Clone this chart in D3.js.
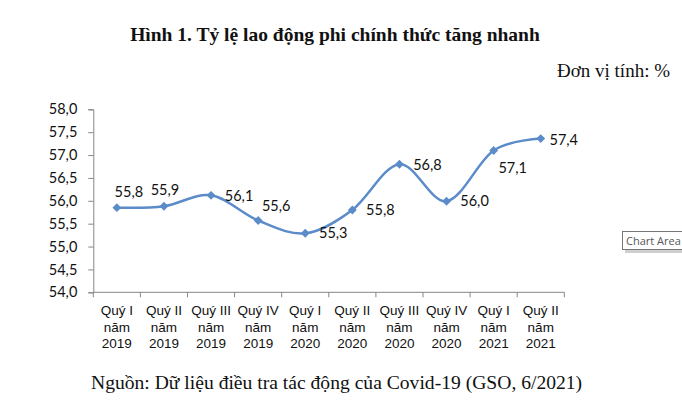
<!DOCTYPE html>
<html>
<head>
<meta charset="utf-8">
<script src="https://cdn.jsdelivr.net/npm/d3@7"></script>
<style>
  body { margin: 0; background: #fff; }
  svg { display: block; }
</style>
</head>
<body>
<div id="chart"></div>
<script>
// data
var quarters = [
  ["Quý I", "năm", "2019"], ["Quý II", "năm", "2019"], ["Quý III", "năm", "2019"], ["Quý IV", "năm", "2019"],
  ["Quý I", "năm", "2020"], ["Quý II", "năm", "2020"], ["Quý III", "năm", "2020"], ["Quý IV", "năm", "2020"],
  ["Quý I", "năm", "2021"], ["Quý II", "năm", "2021"]
];
var rates = [55.85, 55.88, 56.12, 55.57, 55.29, 55.80, 56.80, 55.99, 57.10, 57.36];
var rateLabels = ["55,8", "55,9", "56,1", "55,6", "55,3", "55,8", "56,8", "56,0", "57,1", "57,4"];
var yTicks = [54, 54.5, 55, 55.5, 56, 56.5, 57, 57.5, 58];

// label placement relative to each point (dx, dy of text middle)
var labelPos = [[12, -16], [1, -16], [28, 1], [18, -15], [28, 0], [28, 0], [28, 1], [28, 0], [19, 17], [23, 1]];

var w = 682, h = 400;
var plotLeft = 93.3, plotRight = 564.3, plotTop = 109.3, plotBottom = 292.3;
var blue = "#5b8cc9";

var svg = d3.select("#chart").append("svg")
  .attr("width", w)
  .attr("height", h);

var xScale = d3.scaleBand()
  .domain(d3.range(quarters.length))
  .range([plotLeft, plotRight]);

var yScale = d3.scaleLinear()
  .domain([54, 58])
  .range([plotBottom, plotTop]);

//title + unit
svg.append("text")
  .attr("x", 335)
  .attr("y", 41)
  .attr("text-anchor", "middle")
  .style("font-family", "'Liberation Serif', serif")
  .style("font-weight", "bold")
  .style("font-size", "19.5px")
  .style("fill", "#111")
  .text("Hình 1. Tỷ lệ lao động phi chính thức tăng nhanh");

svg.append("text")
  .attr("x", 670)
  .attr("y", 77)
  .attr("text-anchor", "end")
  .style("font-family", "'Liberation Serif', serif")
  .style("font-size", "19px")
  .style("fill", "#111")
  .text("Đơn vị tính: %");

//y axis
var yAxis = d3.axisLeft(yScale)
  .tickValues(yTicks)
  .tickSize(5)
  .tickPadding(11)
  .tickFormat(function(d) { return d3.format(".1f")(d).replace(".", ","); });

var gy = svg.append("g")
  .attr("transform", "translate(" + plotLeft + ",0)")
  .call(yAxis);
gy.select(".domain").attr("stroke", "#868686");
gy.selectAll(".tick line").attr("stroke", "#868686");
gy.selectAll(".tick text")
  .style("font-family", "Lato, sans-serif")
  .style("font-size", "14.5px")
  .style("fill", "#111");

//x axis with boundary ticks
var xLine = svg.append("g").attr("class", "xaxis");
xLine.append("line")
  .attr("x1", plotLeft).attr("x2", plotRight)
  .attr("y1", plotBottom).attr("y2", plotBottom)
  .attr("stroke", "#868686");
xLine.selectAll(".xtick")
  .data(d3.range(quarters.length + 1))
  .join("line")
  .attr("class", "xtick")
  .attr("x1", function(i) { return plotLeft + i * xScale.step(); })
  .attr("x2", function(i) { return plotLeft + i * xScale.step(); })
  .attr("y1", plotBottom).attr("y2", plotBottom + 5)
  .attr("stroke", "#868686");

var xLabels = svg.append("g").selectAll("text")
  .data(quarters)
  .join("text")
  .attr("x", function(d, i) { return xScale(i) + xScale.bandwidth() / 2; })
  .attr("y", 315)
  .attr("text-anchor", "middle")
  .style("font-family", "'Liberation Sans', Arial, sans-serif")
  .style("font-size", "13.5px")
  .style("fill", "#111");
xLabels.selectAll("tspan")
  .data(function(d) { return d; })
  .join("tspan")
  .attr("x", function() { return this.parentNode.getAttribute("x"); })
  .attr("dy", function(d, i) { return i == 0 ? 0 : 16.7; })
  .text(function(d) { return d; });

//line
var cx = function(d, i) { return xScale(i) + xScale.bandwidth() / 2; };
svg.append("path")
  .datum(rates)
  .attr("fill", "none")
  .attr("stroke", blue)
  .attr("stroke-width", 2.5)
  .attr("d", d3.line()
    .x(cx)
    .y(function(d) { return yScale(d); })
    .curve(d3.curveCardinal));

svg.selectAll(".marker")
  .data(rates)
  .join("path")
  .attr("class", "marker")
  .attr("transform", function(d, i) { return "translate(" + cx(d, i) + "," + yScale(d) + ")"; })
  .attr("d", d3.symbol().type(d3.symbolDiamond2).size(50))
  .attr("fill", blue);

svg.selectAll(".dlabel")
  .data(rates)
  .join("text")
  .attr("class", "dlabel")
  .attr("x", function(d, i) { return cx(d, i) + labelPos[i][0]; })
  .attr("y", function(d, i) { return yScale(d) + labelPos[i][1]; })
  .attr("dy", "0.35em")
  .attr("text-anchor", "middle")
  .style("font-family", "Lato, sans-serif")
  .style("font-size", "14.5px")
  .style("fill", "#111")
  .text(function(d, i) { return rateLabels[i]; });

//source
svg.append("text")
  .attr("x", 91)
  .attr("y", 389)
  .style("font-family", "'Liberation Serif', serif")
  .style("font-size", "19.6px")
  .style("fill", "#111")
  .text("Nguồn: Dữ liệu điều tra tác động của Covid-19 (GSO, 6/2021)");

//excel tooltip left in the screenshot
var tip = svg.append("g");
tip.append("rect")
  .attr("x", 625).attr("y", 235)
  .attr("width", 70).attr("height", 18)
  .attr("fill", "#cfcfcf");
tip.append("rect")
  .attr("x", 622.5).attr("y", 231.5)
  .attr("width", 70).attr("height", 18)
  .attr("fill", "#fff")
  .attr("stroke", "#767676");
tip.append("text")
  .attr("x", 626).attr("y", 245)
  .style("font-family", "'Open Sans', sans-serif")
  .style("font-size", "11px")
  .style("fill", "#575757")
  .text("Chart Area");
</script>
</body>
</html>
